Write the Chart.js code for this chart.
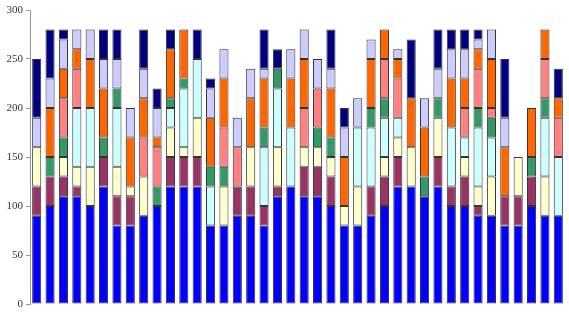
<!DOCTYPE html>
<html>
<head>
<meta charset="utf-8">
<script src="https://cdn.jsdelivr.net/npm/chart.js@4.4.1/dist/chart.umd.min.js"></script>
<style>
	body { margin: 0; background: #fff; }
	#box { width: 569px; height: 333px; position: relative; }
</style>
</head>
<body>
<div id="box"><canvas id="myChart"></canvas></div>
<script>
// one entry per bar, 40 bars
const labels = Array.from({length: 40}, (_, i) => String(i + 1))

const blue     = [90,100,110,110,100,120,80,80,90,100, 120,120,120,80,80,90,90,80,110,120, 110,110,100,80,80,90,100,120,120,110, 120,100,100,90,90,80,80,100,90,90]
const maroon   = [30,30,20,10,0,30,30,30,0,0, 30,30,30,0,0,30,30,20,10,0, 30,30,30,0,0,30,30,30,0,0, 30,20,30,10,0,30,30,30,0,0]
const yellow   = [40,0,20,20,40,0,30,10,40,0, 30,10,40,0,40,0,40,0,40,0, 20,20,20,20,40,0,20,20,40,0, 40,0,20,20,40,0,40,0,40,0]
const cyan     = [0,0,0,60,60,0,60,0,0,0, 20,60,60,40,0,0,0,60,60,60, 0,0,0,0,60,60,40,20,0,0, 0,60,20,60,40,0,0,0,60,60]
const green    = [0,20,20,0,0,20,20,0,0,20, 10,10,0,20,20,0,0,20,20,0, 0,20,20,0,0,20,20,0,0,20, 20,0,0,20,20,0,0,20,20,0]
const salmon   = [0,0,40,40,0,0,0,0,40,40, 0,0,0,0,40,40,0,0,0,0, 40,40,0,0,0,0,40,40,0,0, 0,0,30,40,10,0,0,0,40,40]
const orange   = [0,50,30,20,50,50,0,50,40,10, 50,50,0,50,50,0,50,50,0,50, 50,0,50,50,0,50,30,20,50,50, 0,50,30,20,50,50,0,50,30,20]
const lavender = [30,30,30,20,30,30,30,30,30,30, 0,0,0,30,30,30,30,10,0,30, 30,30,20,30,30,20,0,10,0,30, 30,30,30,10,30,30,0,0,0,0]
const navy     = [60,50,10,0,0,30,30,0,40,20, 20,0,30,10,0,0,0,40,20,0, 0,0,40,20,0,0,0,0,60,0, 40,20,20,10,0,60,0,0,0,30]

const yTicks = [0, 50, 100, 150, 200, 250, 300]

const series = [
	[blue, '#0000FF'],
	[maroon, '#993366'],
	[yellow, '#FFFFCC'],
	[cyan, '#CCFFFF'],
	[green, '#339966'],
	[salmon, '#FF8080'],
	[orange, '#FF6600'],
	[lavender, '#CCCCFF'],
	[navy, '#000080'],
]

const ctx = document.getElementById('myChart').getContext('2d')
new Chart(ctx, {
	type: 'bar',
	data: {
		labels: labels,
		datasets: series.map(s => ({
			data: s[0].map(v => v === 0 ? null : v),
			backgroundColor: s[1],
			borderColor: '#333333',
			borderWidth: 1,
			borderSkipped: false,
			categoryPercentage: 1,
			barPercentage: 0.68,
		})),
	},
	options: {
		animation: false,
		responsive: true,
		maintainAspectRatio: false,
		layout: {
			padding: { top: 10, right: 4, bottom: 29, left: 0 }
		},
		plugins: {
			legend: { display: false },
			tooltip: { enabled: false },
		},
		scales: {
			x: {
				stacked: true,
				display: false,
			},
			y: {
				stacked: true,
				min: 0,
				max: 300,
				afterBuildTicks: axis => {
					axis.ticks = yTicks.map(v => ({ value: v }))
				},
				afterFit: axis => {
					axis.width = 30
				},
				grid: {
					drawOnChartArea: false,
					drawTicks: true,
					tickLength: 4,
					color: '#999999',
				},
				border: {
					display: true,
					color: '#999999',
					width: 1,
				},
				ticks: {
					padding: 3,
					color: '#333333',
					font: { family: 'Liberation Serif', size: 11 },
				},
			}
		}
	}
})
</script>
</body>
</html>
